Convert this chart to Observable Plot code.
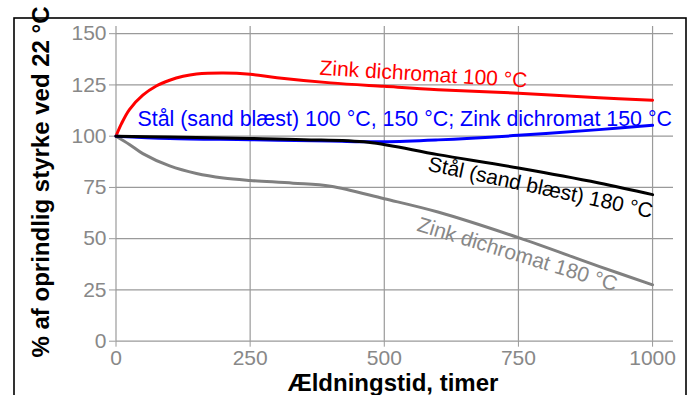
<!DOCTYPE html>
<html>
<head>
<meta charset="utf-8">
<script src="https://cdn.jsdelivr.net/npm/d3@7"></script>
<script src="https://cdn.jsdelivr.net/npm/@observablehq/plot@0.6"></script>
<style>
  html, body { margin: 0; padding: 0; background: #fff; }
  #chart svg { display: block; }
</style>
</head>
<body>
<div id="chart"></div>
<script>
// ---- Data ----
const xTicks = [0, 250, 500, 750, 1000];
const yTicks = [0, 25, 50, 75, 100, 125, 150];

const redT   = [0, 10, 25, 50, 75, 100, 125, 150, 200, 250, 300, 400, 500, 600, 750, 900, 1000];
const redV   = [100, 106, 113, 120, 124.5, 127.3, 129.2, 130.3, 130.8, 130.2, 128.5, 126, 124.3, 122.7, 121, 118.7, 117.5];

const blueT  = [0, 100, 250, 400, 500, 600, 750, 900, 1000];
const blueV  = [100, 98.9, 98.3, 97.6, 97.3, 98.2, 100.4, 103.2, 105.3];

const blackT = [0, 100, 250, 350, 470, 600, 750, 900, 1000];
const blackV = [100, 99.6, 98.9, 98.3, 97, 91, 84.5, 77.2, 71.5];

const grayT  = [0, 25, 50, 100, 150, 200, 250, 330, 400, 500, 600, 750, 900, 1000];
const grayV  = [100, 96, 91.5, 85.5, 81.8, 79.6, 78.4, 77.1, 75.6, 69.5, 63, 50.5, 36.5, 27.5];

const labelText  = ["Zink dichromat 100 °C",
                    "Stål (sand blæst) 100 °C, 150 °C; Zink dichromat 150 °C",
                    "Stål (sand blæst) 180 °C",
                    "Zink dichromat 180 °C"];
const labelX     = [573, 538, 791, 748];
const labelY     = [130.2, 108.2, 74.9, 42.3];
const labelAngle = [3.5, 0, 12, 17];
const labelSize  = [21, 21.4, 21, 21];
const labelColor = ["#ff0000", "#0000ff", "#000000", "#888888"];

const xTitle = "Ældningstid, timer";
const yTitle = "% af oprindlig styrke ved 22 °C";

// ---- Build tables ----
const toRows = (T, V) => T.map((t, i) => ({t, v: V[i]}));
const red = toRows(redT, redV);
const blue = toRows(blueT, blueV);
const black = toRows(blackT, blackV);
const gray = toRows(grayT, grayV);
const labels = labelText.map((s, i) => ({s, x: labelX[i], y: labelY[i], a: labelAngle[i], f: labelSize[i], c: labelColor[i]}));

const font = "Liberation Sans, Arial, Helvetica, sans-serif";
const lw = 3;
const crv = "catmull-rom";

const plot = Plot.plot({
  width: 692,
  height: 395,
  marginLeft: 115.5,
  marginRight: 19,
  marginTop: 26,
  marginBottom: 54.3,
  style: {fontFamily: font, background: "transparent", overflow: "visible"},
  x: {domain: [0, 1039]},
  y: {domain: [0, 153.5]},
  marks: [
    Plot.gridX(xTicks, {stroke: "#9a9a9a", strokeOpacity: 1, strokeWidth: 1.2}),
    Plot.gridY(yTicks, {stroke: "#9a9a9a", strokeOpacity: 1, strokeWidth: 1.2}),
    Plot.axisX(xTicks, {tickSize: 6, tickPadding: 3, fontSize: 21, color: "#888", stroke: "#9a9a9a", label: null, tickFormat: d => String(d)}),
    Plot.axisY(yTicks, {tickSize: 6.5, tickPadding: 3, fontSize: 21, color: "#888", stroke: "#9a9a9a", label: null, tickFormat: d => String(d)}),
    Plot.line(red,   {x: "t", y: "v", stroke: "#ff0000", strokeWidth: lw, curve: crv}),
    Plot.line(gray,  {x: "t", y: "v", stroke: "#808080", strokeWidth: lw, curve: crv}),
    Plot.line(blue,  {x: "t", y: "v", stroke: "#0000ff", strokeWidth: lw, curve: crv}),
    Plot.line(black, {x: "t", y: "v", stroke: "#000000", strokeWidth: lw, curve: crv}),
    Plot.text(labels, {x: "x", y: "y", text: "s", rotate: "a", fill: "c", fontSize: "f", textAnchor: "middle", lineAnchor: "middle"})
  ]
});

const svg = d3.select(plot);
// outer frame of the figure
svg.insert("rect", ":first-child")
  .attr("x", 14).attr("y", 18).attr("width", 672).attr("height", 420)
  .attr("fill", "none").attr("stroke", "#000").attr("stroke-width", 1.6);
// axis titles
svg.append("text")
  .attr("x", 393).attr("y", 391)
  .attr("text-anchor", "middle")
  .attr("font-family", font).attr("font-weight", "bold").attr("font-size", 24)
  .attr("fill", "#000").text(xTitle);
svg.append("text")
  .attr("transform", "translate(49,182) rotate(-90)")
  .attr("text-anchor", "middle")
  .attr("font-family", font).attr("font-weight", "bold").attr("font-size", 24)
  .attr("fill", "#000").text(yTitle);

document.getElementById("chart").appendChild(plot);
</script>
</body>
</html>
